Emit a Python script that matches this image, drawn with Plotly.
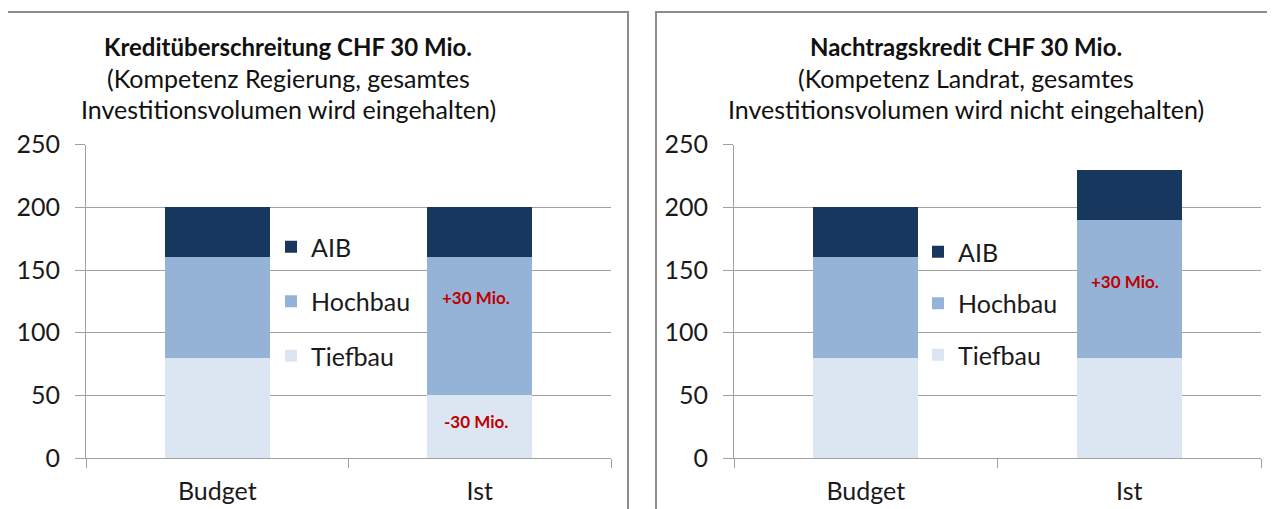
import plotly.graph_objects as go

categories = ["Budget", "Ist"]
series_names = ["Tiefbau", "Hochbau", "AIB"]
legend_rank = {"AIB": 1, "Hochbau": 2, "Tiefbau": 3}
colors = {"Tiefbau": "#DCE6F2", "Hochbau": "#95B3D7", "AIB": "#17375E"}

left_values = {"Tiefbau": [80, 50], "Hochbau": [80, 110], "AIB": [40, 40]}
right_values = {"Tiefbau": [80, 80], "Hochbau": [80, 110], "AIB": [40, 40]}

left_title = ["<b>Kreditüberschreitung CHF 30 Mio.</b>",
              "(Kompetenz Regierung, gesamtes",
              "Investitionsvolumen wird eingehalten)"]
right_title = ["<b>Nachtragskredit CHF 30 Mio.</b>",
               "(Kompetenz Landrat, gesamtes",
               "Investitionsvolumen wird nicht eingehalten)"]

left_notes = [("Ist", 128, "+30 Mio."), ("Ist", 29, "-30 Mio.")]
right_notes = [("Ist", 141, "+30 Mio.")]

W, H = 1275, 509
OFF = 8  # page body margin
FONT = "Lato"
GRID = "#A0A0A0"


def px(x):
    return (x - OFF) / W


def py(y):
    return 1 - (y - OFF) / H


fig = go.Figure()

for name in series_names:
    fig.add_trace(go.Bar(x=categories, y=left_values[name], name=name,
                         marker=dict(color=colors[name], line=dict(width=0)),
                         xaxis="x", yaxis="y", legend="legend",
                         legendrank=legend_rank[name], legendgroup="L" + name))
for name in series_names:
    fig.add_trace(go.Bar(x=categories, y=right_values[name], name=name,
                         marker=dict(color=colors[name], line=dict(width=0)),
                         xaxis="x2", yaxis="y2", legend="legend2",
                         legendrank=legend_rank[name], legendgroup="R" + name))

axis_common_y = dict(range=[0, 250], dtick=50, showgrid=True, gridcolor=GRID, gridwidth=1,
                     showline=True, linecolor=GRID, linewidth=1, ticks="outside",
                     ticklen=10, tickcolor=GRID, zeroline=False, ticklabelstandoff=10,
                     tickfont=dict(family=FONT, size=25, color="#1a1a1a"), fixedrange=True)
axis_common_x = dict(showline=True, linecolor=GRID, linewidth=1, ticks="outside",
                     tickson="boundaries", ticklen=9, tickcolor=GRID, showgrid=False,
                     ticklabelstandoff=11,
                     tickfont=dict(family=FONT, size=25, color="#1a1a1a"), fixedrange=True)

legend_common = dict(xanchor="left", yanchor="top", traceorder="grouped",
                     font=dict(family=FONT, size=25, color="#1a1a1a"),
                     bgcolor="rgba(0,0,0,0)")

fig.update_layout(
    width=W, height=H, margin=dict(l=0, r=0, t=0, b=0, autoexpand=False),
    paper_bgcolor="white", plot_bgcolor="white", barmode="stack", bargap=0.6,
    xaxis=dict(domain=[px(86), px(611)], anchor="y", **axis_common_x),
    yaxis=dict(domain=[py(458), py(144.7)], anchor="x", **axis_common_y),
    xaxis2=dict(domain=[px(734), px(1261)], anchor="y2", **axis_common_x),
    yaxis2=dict(domain=[py(458), py(144.7)], anchor="x2", **axis_common_y),
    legend=dict(x=px(271), y=py(224), tracegroupgap=19, **legend_common),
    legend2=dict(x=px(918), y=py(229), tracegroupgap=16, **legend_common),
    showlegend=True,
)

# panel borders
fig.add_shape(type="rect", xref="paper", yref="paper", x0=px(7), x1=px(628), y0=py(530), y1=py(12),
              line=dict(color="#8C8C8C", width=2), layer="below")
fig.add_shape(type="rect", xref="paper", yref="paper", x0=px(656), x1=px(1300), y0=py(530), y1=py(12),
              line=dict(color="#8C8C8C", width=2), layer="below")

for cx, lines in ((px(288), left_title), (px(966), right_title)):
    for i, t in enumerate(lines):
        fig.add_annotation(x=cx, y=py(47 + 31 * i), xref="paper", yref="paper", text=t,
                           showarrow=False, xanchor="center", yanchor="middle",
                           font=dict(family=FONT, size=24 if i == 0 else 25, color="#111"))

for xa, ya, notes in (("x", "y", left_notes), ("x2", "y2", right_notes)):
    for cat, val, txt in notes:
        fig.add_annotation(x=cat, y=val, xref=xa, yref=ya, text="<b>" + txt + "</b>",
                           showarrow=False, xshift=-4,
                           font=dict(family=FONT, size=17, color="#C00000"))

fig.write_html("out.html")
